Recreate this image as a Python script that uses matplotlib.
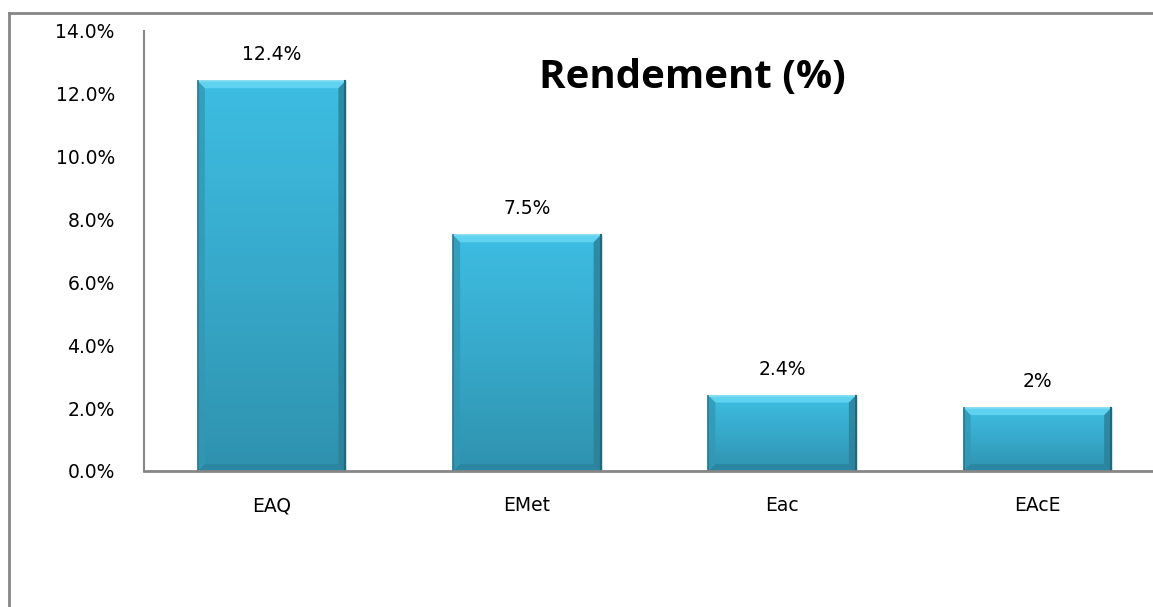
import matplotlib
matplotlib.use("Agg")
import matplotlib.pyplot as plt
import numpy as np
from matplotlib.colors import LinearSegmentedColormap
from matplotlib.lines import Line2D
from matplotlib.patches import Polygon

categories = ["EAQ", "EMet", "Eac", "EAcE"]
values = [12.4, 7.5, 2.4, 2.0]
value_labels = ["12.4%", "7.5%", "2.4%", "2%"]
yticks = [0, 2, 4, 6, 8, 10, 12, 14]
ytick_labels = ["0.0%", "2.0%", "4.0%", "6.0%", "8.0%", "10.0%", "12.0%", "14.0%"]
title = "Rendement (%)"

plt.rcParams['font.family'] = ['DejaVu Sans']

W, H = 1153, 607
fig = plt.figure(figsize=(W / 100, H / 100), dpi=100)
fig.patch.set_facecolor("white")

ax = fig.add_axes([144 / W, (H - 471) / H, (1165 - 144) / W, (471 - 31) / H])
ax.set_xlim(-0.5, 3.5)
ax.set_ylim(0, 14)

grey = "#868686"
for s in ["top", "right"]:
    ax.spines[s].set_visible(False)
ax.spines["left"].set_color(grey)
ax.spines["bottom"].set_color(grey)
ax.spines["left"].set_linewidth(1.5)
ax.spines["bottom"].set_linewidth(2)
ax.spines["bottom"].set_zorder(5)

x = np.arange(len(categories))
bars = ax.bar(x, values, width=0.578, color="#38b0d3", edgecolor="#2a7d95",
              linewidth=1.0, zorder=2)

cmap = LinearSegmentedColormap.from_list("bar", ["#2f92ae", "#37a9ca", "#3dbde2"])
grad = np.linspace(0, 1, 256).reshape(-1, 1)
# pixel-to-data conversions for the bevel styling
dx_px = 4.0 / 255.0   # 1 category unit ~ 255 px
dy_px = 14.0 / 440.0  # 14 units ~ 440 px
for b in bars:
    x0, w, h = b.get_x(), b.get_width(), b.get_height()
    im = ax.imshow(grad, cmap=cmap, aspect="auto", origin="lower",
                   extent=[x0, x0 + w, 0, h], zorder=2.5)
    im.set_clip_path(b)
    bev_h = 7 * dy_px
    bev_w = 7 * dx_px / 4 * 1.0
    # top bevel (light)
    ax.add_patch(Polygon([(x0, h), (x0 + w, h), (x0 + w - 7 / 255, h - bev_h),
                          (x0 + 7 / 255, h - bev_h)], closed=True,
                         facecolor="#5fd2ef", edgecolor="none", zorder=2.7))
    ax.plot([x0, x0 + w], [h, h], color="#7fdcf2", lw=1.2, zorder=2.75)
    # bottom bevel (dark)
    ax.add_patch(Polygon([(x0, 0), (x0 + w, 0), (x0 + w - 7 / 255, bev_h),
                          (x0 + 7 / 255, bev_h)], closed=True,
                         facecolor="#2b86a1", edgecolor="none", zorder=2.7))
    # side bevels
    ax.add_patch(Polygon([(x0, 0), (x0 + 7 / 255, bev_h), (x0 + 7 / 255, h - bev_h),
                          (x0, h)], closed=True, facecolor="#3099b6",
                         edgecolor="none", zorder=2.7, alpha=0.8))
    ax.add_patch(Polygon([(x0 + w, 0), (x0 + w - 7 / 255, bev_h),
                          (x0 + w - 7 / 255, h - bev_h), (x0 + w, h)], closed=True,
                         facecolor="#2a7f98", edgecolor="none", zorder=2.7, alpha=0.8))
    ax.plot([x0, x0], [0, h], color="#2a7890", lw=1.2, zorder=2.8)
    ax.plot([x0 + w, x0 + w], [0, h], color="#23677b", lw=1.5, zorder=2.8)

for xi, v, lab in zip(x, values, value_labels):
    ax.annotate(lab, (xi, v), xytext=(0, 15), textcoords="offset points",
                ha="center", va="baseline", fontsize=13.5, color="black")

ax.set_xticks(x)
ax.set_xticklabels(categories, fontsize=13.5)
ax.set_yticks(yticks)
ax.set_yticklabels(ytick_labels, fontsize=13.5)
ax.tick_params(axis="both", length=0, colors="black")
ax.tick_params(axis="x", pad=18)
ax.tick_params(axis="y", pad=21)

fig.text(692 / W, 1 - 78 / H, title, ha="center", va="center",
         fontsize=29, fontweight="bold", color="black", family="Open Sans")

fig.add_artist(Line2D([8.5 / W, 1.0], [1 - 13 / H, 1 - 13 / H], color=grey,
                      lw=2, transform=fig.transFigure))
fig.add_artist(Line2D([8.5 / W, 8.5 / W], [0, 1 - 13 / H], color=grey,
                      lw=2, transform=fig.transFigure))

fig.savefig("out.png", dpi=100, facecolor="white")
